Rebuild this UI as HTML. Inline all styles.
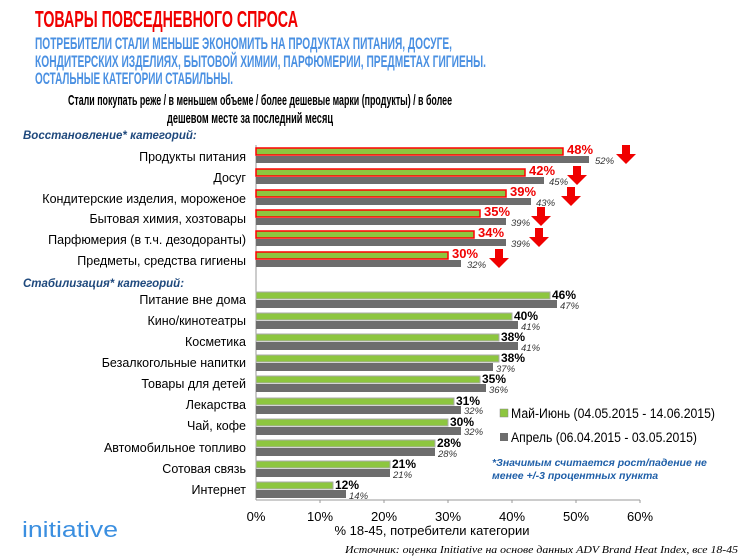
<!DOCTYPE html>
<html><head><meta charset="utf-8"><style>
html,body{margin:0;padding:0;background:#fff;}
svg{display:block;font-family:"Liberation Sans",sans-serif;}
</style></head><body>
<svg width="750" height="559" viewBox="0 0 750 559" xmlns="http://www.w3.org/2000/svg">
<defs>
<g id="arr"><path d="M5,0 H13 V9 H19 L9,19 L-1,9 H5 Z"/></g>
</defs>
<text x="35" y="27" font-size="23" font-weight="bold" fill="#f00000" textLength="263" lengthAdjust="spacingAndGlyphs">ТОВАРЫ ПОВСЕДНЕВНОГО СПРОСА</text>
<g font-size="17" font-weight="bold" fill="#4a90e2">
<text x="35" y="49" textLength="417" lengthAdjust="spacingAndGlyphs">ПОТРЕБИТЕЛИ СТАЛИ МЕНЬШЕ ЭКОНОМИТЬ НА ПРОДУКТАХ ПИТАНИЯ, ДОСУГЕ,</text>
<text x="35" y="67" textLength="451" lengthAdjust="spacingAndGlyphs">КОНДИТЕРСКИХ ИЗДЕЛИЯХ, БЫТОВОЙ ХИМИИ, ПАРФЮМЕРИИ, ПРЕДМЕТАХ ГИГИЕНЫ.</text>
<text x="35" y="84" textLength="198" lengthAdjust="spacingAndGlyphs">ОСТАЛЬНЫЕ КАТЕГОРИИ СТАБИЛЬНЫ.</text>
</g>
<g font-size="15" font-weight="bold" fill="#000">
<text x="68" y="105" textLength="384" lengthAdjust="spacingAndGlyphs">Стали покупать реже / в меньшем объеме / более дешевые марки (продукты) / в более</text>
<text x="167" y="123" textLength="166" lengthAdjust="spacingAndGlyphs">дешевом месте за последний месяц</text>
</g>
<g font-size="11.5" font-weight="bold" font-style="italic" fill="#1f497d">
<text x="23" y="139">Восстановление*  категорий:</text>
<text x="23" y="287">Стабилизация*  категорий:</text>
</g>
<line x1="256" y1="145" x2="256" y2="500" stroke="#999"/>
<line x1="256" y1="500" x2="640" y2="500" stroke="#999"/>
<g stroke="#999"><line x1="320" y1="500" x2="320" y2="503"/><line x1="384" y1="500" x2="384" y2="503"/><line x1="448" y1="500" x2="448" y2="503"/><line x1="512" y1="500" x2="512" y2="503"/><line x1="576" y1="500" x2="576" y2="503"/><line x1="640" y1="500" x2="640" y2="503"/></g>
<g font-size="13" fill="#000" text-anchor="middle">
<text x="256" y="521">0%</text><text x="320" y="521">10%</text><text x="384" y="521">20%</text><text x="448" y="521">30%</text><text x="512" y="521">40%</text><text x="576" y="521">50%</text><text x="640" y="521">60%</text>
<text x="432" y="535">% 18-45, потребители категории</text>
</g>
<text x="738" y="553" font-family="Liberation Serif,serif" font-size="10.5" font-style="italic" text-anchor="end" fill="#000" textLength="393" lengthAdjust="spacingAndGlyphs">Источник: оценка Initiative на основе данных ADV Brand Heat Index, все 18-45</text>
<text x="22" y="537" font-size="22" fill="#3b8fe0" textLength="96" lengthAdjust="spacingAndGlyphs">initiative</text>
<g font-size="12.5" text-anchor="end" fill="#000">
<text x="246" y="161">Продукты питания</text>
<text x="246" y="182">Досуг</text>
<text x="246" y="203">Кондитерские изделия, мороженое</text>
<text x="246" y="223">Бытовая химия, хозтовары</text>
<text x="246" y="244">Парфюмерия (в т.ч. дезодоранты)</text>
<text x="246" y="265">Предметы, средства гигиены</text>
</g>
<g>
<rect x="256" y="148" width="307" height="7" fill="#8dc63f" stroke="#f00" stroke-width="1.5"/><rect x="256" y="156" width="333" height="7" fill="#6d6d6d"/>
<rect x="256" y="169" width="269" height="7" fill="#8dc63f" stroke="#f00" stroke-width="1.5"/><rect x="256" y="177" width="288" height="7" fill="#6d6d6d"/>
<rect x="256" y="190" width="250" height="7" fill="#8dc63f" stroke="#f00" stroke-width="1.5"/><rect x="256" y="198" width="275" height="7" fill="#6d6d6d"/>
<rect x="256" y="210" width="224" height="7" fill="#8dc63f" stroke="#f00" stroke-width="1.5"/><rect x="256" y="218" width="250" height="7" fill="#6d6d6d"/>
<rect x="256" y="231" width="218" height="7" fill="#8dc63f" stroke="#f00" stroke-width="1.5"/><rect x="256" y="239" width="250" height="7" fill="#6d6d6d"/>
<rect x="256" y="252" width="192" height="7" fill="#8dc63f" stroke="#f00" stroke-width="1.5"/><rect x="256" y="260" width="205" height="7" fill="#6d6d6d"/>
</g>
<g font-size="13" font-weight="bold" fill="#f00000">
<text x="567" y="154">48%</text><text x="529" y="175">42%</text><text x="510" y="196">39%</text><text x="484" y="216">35%</text><text x="478" y="237">34%</text><text x="452" y="258">30%</text>
</g>
<g font-size="9.5" font-style="italic" fill="#333">
<text x="595" y="164">52%</text><text x="549" y="185">45%</text><text x="536" y="206">43%</text><text x="511" y="226">39%</text><text x="511" y="247">39%</text><text x="467" y="268">32%</text>
</g>
<g fill="#f00000">
<use href="#arr" x="617" y="145"/><use href="#arr" x="568" y="166"/><use href="#arr" x="562" y="187"/><use href="#arr" x="532" y="207"/><use href="#arr" x="530" y="228"/><use href="#arr" x="490" y="249"/>
</g>
<g font-size="12.5" text-anchor="end" fill="#000">
<text x="246" y="304">Питание вне дома</text>
<text x="246" y="325">Кино/кинотеатры</text>
<text x="246" y="346">Косметика</text>
<text x="246" y="367">Безалкогольные напитки</text>
<text x="246" y="388">Товары для детей</text>
<text x="246" y="409">Лекарства</text>
<text x="246" y="430">Чай, кофе</text>
<text x="246" y="452">Автомобильное топливо</text>
<text x="246" y="473">Сотовая связь</text>
<text x="246" y="494">Интернет</text>
</g>
<g>
<rect x="256" y="292" width="294" height="7" fill="#8dc63f" stroke="#aaa" stroke-width="1"/><rect x="256" y="300" width="301" height="8" fill="#6d6d6d"/>
<rect x="256" y="313" width="256" height="7" fill="#8dc63f" stroke="#aaa" stroke-width="1"/><rect x="256" y="321" width="262" height="8" fill="#6d6d6d"/>
<rect x="256" y="334" width="243" height="7" fill="#8dc63f" stroke="#aaa" stroke-width="1"/><rect x="256" y="342" width="262" height="8" fill="#6d6d6d"/>
<rect x="256" y="355" width="243" height="7" fill="#8dc63f" stroke="#aaa" stroke-width="1"/><rect x="256" y="363" width="237" height="8" fill="#6d6d6d"/>
<rect x="256" y="376" width="224" height="7" fill="#8dc63f" stroke="#aaa" stroke-width="1"/><rect x="256" y="384" width="230" height="8" fill="#6d6d6d"/>
<rect x="256" y="398" width="198" height="7" fill="#8dc63f" stroke="#aaa" stroke-width="1"/><rect x="256" y="406" width="205" height="8" fill="#6d6d6d"/>
<rect x="256" y="419" width="192" height="7" fill="#8dc63f" stroke="#aaa" stroke-width="1"/><rect x="256" y="427" width="205" height="8" fill="#6d6d6d"/>
<rect x="256" y="440" width="179" height="7" fill="#8dc63f" stroke="#aaa" stroke-width="1"/><rect x="256" y="448" width="179" height="8" fill="#6d6d6d"/>
<rect x="256" y="461" width="134" height="7" fill="#8dc63f" stroke="#aaa" stroke-width="1"/><rect x="256" y="469" width="134" height="8" fill="#6d6d6d"/>
<rect x="256" y="482" width="77" height="7" fill="#8dc63f" stroke="#aaa" stroke-width="1"/><rect x="256" y="490" width="90" height="8" fill="#6d6d6d"/>
</g>
<g font-size="12" font-weight="bold" fill="#000">
<text x="552" y="299">46%</text><text x="514" y="320">40%</text><text x="501" y="341">38%</text><text x="501" y="362">38%</text><text x="482" y="383">35%</text><text x="456" y="405">31%</text><text x="450" y="426">30%</text><text x="437" y="447">28%</text><text x="392" y="468">21%</text><text x="335" y="489">12%</text>
</g>
<g font-size="9.5" font-style="italic" fill="#333">
<text x="560" y="309">47%</text><text x="521" y="330">41%</text><text x="521" y="351">41%</text><text x="496" y="372">37%</text><text x="489" y="393">36%</text><text x="464" y="414">32%</text><text x="464" y="435">32%</text><text x="438" y="457">28%</text><text x="393" y="478">21%</text><text x="349" y="499">14%</text>
</g>
<rect x="500" y="409" width="8" height="8" fill="#8dc63f" stroke="#888" stroke-width="0.5"/>
<rect x="500" y="433" width="8" height="8" fill="#6d6d6d"/>
<g font-size="13.5" fill="#000">
<text x="511" y="418" textLength="204" lengthAdjust="spacingAndGlyphs">Май-Июнь (04.05.2015 - 14.06.2015)</text>
<text x="511" y="442" textLength="186" lengthAdjust="spacingAndGlyphs">Апрель (06.04.2015 - 03.05.2015)</text>
</g>
<g font-size="10.5" font-weight="bold" font-style="italic" fill="#1f5fa8">
<text x="492" y="466">*Значимым считается рост/падение не</text>
<text x="492" y="479">менее +/-3 процентных пункта</text>
</g>
</svg>
</body></html>
